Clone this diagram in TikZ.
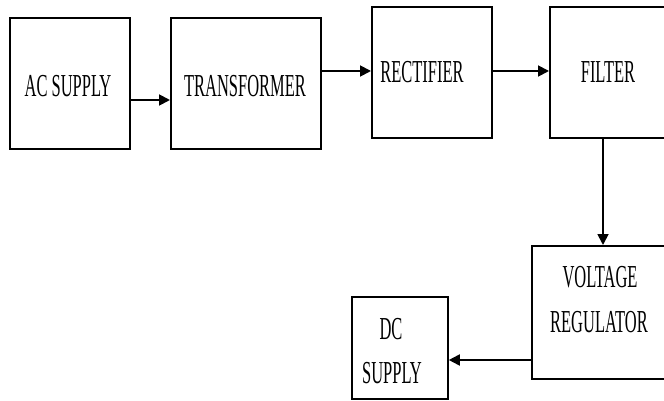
\documentclass[tikz,border=0pt]{standalone}
\usepackage{fontspec}
\setmainfont{Liberation Serif}
\usepackage{graphicx}
\usetikzlibrary{arrows.meta}
\newcommand{\cond}[1]{\scalebox{0.515}[1]{\fontsize{32}{38}\selectfont #1}}
\tikzset{
  blk/.style={draw, line width=1.8pt, inner sep=0pt, anchor=north west},
  lbl/.style={inner sep=0pt, anchor=center},
  conn/.style={line width=1.8pt, -{Triangle[length=11pt,width=11pt]}}
}
\begin{document}
\begin{tikzpicture}[x=1pt,y=-1pt]
\useasboundingbox (0,0) rectangle (664,401);
\clip (0,0) rectangle (664,401);
\fill[white] (0,0) rectangle (664,401);
% boxes
\node[blk, minimum width=120pt, minimum height=131pt] (ac) at (9,17) {};
\node[blk, minimum width=150pt, minimum height=131pt] (tr) at (170,17) {};
\node[blk, minimum width=120pt, minimum height=131pt] (re) at (371,6) {};
\node[blk, minimum width=125pt, minimum height=131pt] (fi) at (549,6) {};
\node[blk, minimum width=143pt, minimum height=133pt] (vr) at (531,245) {};
\node[blk, minimum width=96pt, minimum height=102pt] (dc) at (351,296) {};
% labels
\node[lbl] (tac) at (68,86) {\cond{AC SUPPLY}};
\node[lbl] (ttr) at (245,86) {\cond{TRANSFORMER}};
\node[lbl] (tre) at (422,72) {\cond{RECTIFIER}};
\node[lbl] (tfi) at (608,72) {\cond{FILTER}};
\node[lbl] (tvr1) at (600,277) {\cond{VOLTAGE}};
\node[lbl] (tvr2) at (599,322) {\cond{REGULATOR}};
\node[lbl] (tdc1) at (391,329) {\cond{DC}};
\node[lbl] (tdc2) at (392,373) {\cond{SUPPLY}};
% connectors
\draw[conn] (ac.east |- 0,100) -- (tr.west |- 0,100);
\draw[conn] (tr.east |- 0,71) -- (re.west |- 0,71);
\draw[conn] (re.east |- 0,71) -- (fi.west |- 0,71);
\draw[conn] (fi.south -| 603,0) -- (vr.north -| 603,0);
\draw[conn] (vr.west |- 0,360) -- (dc.east |- 0,360);
\end{tikzpicture}
\end{document}
